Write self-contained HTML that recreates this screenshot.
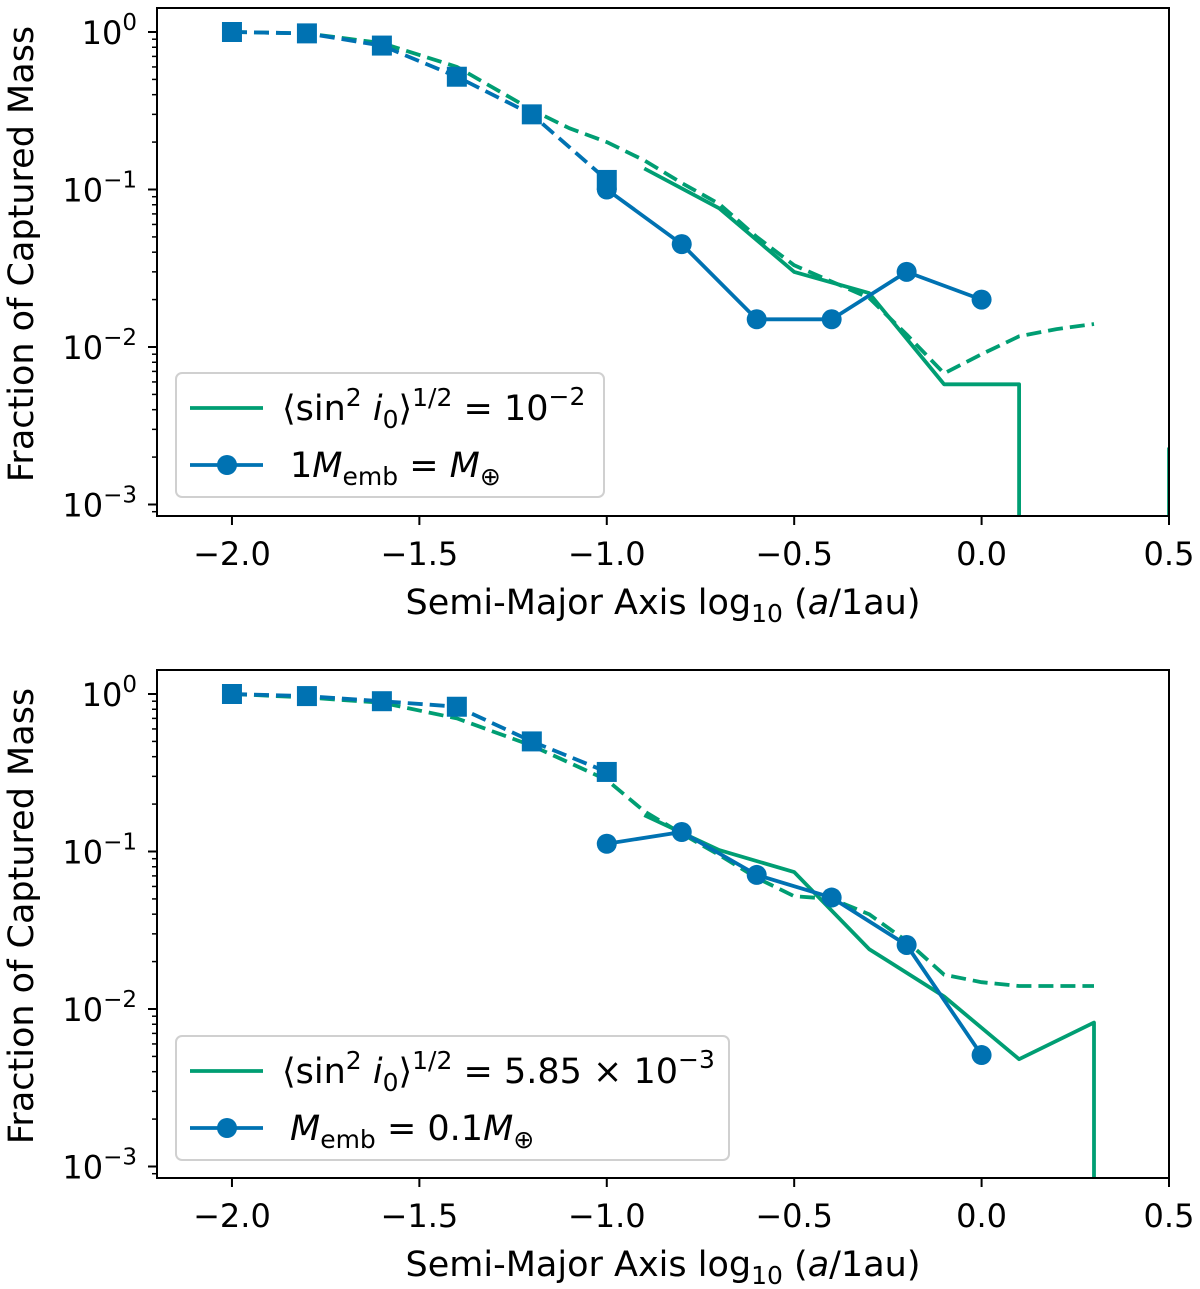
<!DOCTYPE html>
<html><head><meta charset="utf-8">
<style>
html,body{margin:0;padding:0;background:#fff;width:1200px;height:1289px;overflow:hidden;}
svg{display:block;font-family:"DejaVu Sans","Liberation Sans",sans-serif;overflow:hidden;}
</style></head>
<body>
<svg id="fig" width="1200" height="1289" viewBox="0 0 1200 1289" xmlns="http://www.w3.org/2000/svg"></svg>
<script>
// ---- data ----
const xTicks = [-2.0, -1.5, -1.0, -0.5, 0.0, 0.5];
const xTickLabels = ["\u22122.0", "\u22121.5", "\u22121.0", "\u22120.5", "0.0", "0.5"];
const yTickExps = [0, -1, -2, -3];

// top panel
const topSqX = [-2.0, -1.8, -1.6, -1.4, -1.2, -1.0];
const topSqY = [1.0, 0.98, 0.82, 0.52, 0.30, 0.115];
const topCircX = [-1.0, -0.8, -0.6, -0.4, -0.2, 0.0];
const topCircY = [0.10, 0.045, 0.015, 0.015, 0.030, 0.020];
const topGDashX = [-2.0, -1.8, -1.6, -1.4, -1.2, -1.1, -1.0, -0.9, -0.8, -0.7, -0.6, -0.5, -0.4, -0.3, -0.2, -0.1, 0.0, 0.1, 0.2, 0.3];
const topGDashY = [1.0, 0.98, 0.85, 0.6, 0.32, 0.245, 0.2, 0.153, 0.11, 0.081, 0.05, 0.033, 0.026, 0.0205, 0.012, 0.0068, 0.009, 0.0117, 0.013, 0.014];
const topGSolidX = [-0.9, -0.7, -0.5, -0.3, -0.1, 0.1, 0.2, 0.3, 0.4, 0.5];
const topGSolidY = [0.136, 0.076, 0.030, 0.022, 0.0058, 0.0058, 0, 0, 0, 0.0023];

// bottom panel
const botSqX = [-2.0, -1.8, -1.6, -1.4, -1.2, -1.0];
const botSqY = [1.0, 0.97, 0.9, 0.83, 0.50, 0.32];
const botCircX = [-1.0, -0.8, -0.6, -0.4, -0.2, 0.0];
const botCircY = [0.112, 0.133, 0.071, 0.051, 0.0255, 0.0051];
const botGDashX = [-2.0, -1.8, -1.6, -1.4, -1.2, -1.0, -0.9, -0.8, -0.7, -0.6, -0.5, -0.4, -0.3, -0.2, -0.1, 0.0, 0.1, 0.2, 0.3];
const botGDashY = [1.0, 0.95, 0.88, 0.7, 0.47, 0.285, 0.18, 0.13, 0.095, 0.068, 0.052, 0.05, 0.04, 0.027, 0.0165, 0.0148, 0.014, 0.014, 0.014];
const botGSolidX = [-0.9, -0.7, -0.5, -0.3, -0.1, 0.1, 0.3, 0.4];
const botGSolidY = [0.17, 0.102, 0.074, 0.024, 0.012, 0.0048, 0.0082, 0];

const BLUE = "#0072B2", GREEN = "#009E73";
const NS = "http://www.w3.org/2000/svg";
const svg = document.getElementById("fig");
function mk(tag, attrs, parent) {
  const e = document.createElementNS(NS, tag);
  for (const k in attrs) e.setAttribute(k, attrs[k]);
  (parent || svg).appendChild(e);
  return e;
}

function panel(P) {
  const L = 157, R = 1169, T = P.top, B = P.top + 508;
  const y0 = P.y0;
  const dec = 157.5;
  const X = v => L + (v + 2.2) / 2.7 * (R - L);
  const Y = v => y0 - Math.log10(v) * dec;
  const g = mk("g", {});
  
  
  const clipId = "clip" + P.top;
  const cp = mk("clipPath", {id: clipId}, g);
  mk("rect", {x: L, y: T, width: R - L, height: B - T}, cp);

  xTicks.forEach((t, i) => {
    const tk = mk("line", {x1: X(t), x2: X(t), y1: B, y2: B + 9, stroke: "#000", "stroke-width": 2}, g);
    
    
    const tl = mk("text", {x: X(t), y: B + 49, "font-size": 32, "text-anchor": "middle"}, g);
    tl.textContent = xTickLabels[i];
    
    
  });
  yTickExps.forEach(e => {
    const py = y0 - e * dec;
    const tk = mk("line", {x1: L - 9, x2: L, y1: py, y2: py, stroke: "#000", "stroke-width": 2}, g);
    
    
    const tl = mk("text", {x: L - 20, y: py + 12, "font-size": 32, "text-anchor": "end"}, g);
    
    
    tl.innerHTML = '10<tspan dy="-14" font-size="23">' + (e === 0 ? "0" : "\u2212" + (-e)) + '</tspan>';
    for (let m = 2; m <= 9; m++) {
      const my = y0 - (e - 1 + Math.log10(m)) * dec;
      if (my > T && my < B) {
        const mt = mk("line", {x1: L - 5, x2: L, y1: my, y2: my, stroke: "#000", "stroke-width": 1.5}, g);
        
        
      }
    }
  });

  const dg = mk("g", {"clip-path": "url(#" + clipId + ")"}, g);
  function line(xs, ys, color, dash, name) {
    const pts = [];
    xs.forEach((x, i) => {
      if (ys[i] > 0) { pts.push(X(x).toFixed(1) + "," + Y(ys[i]).toFixed(1)); return; }
      // zero on log axis: drop vertically below the axis at neighbouring finite x
      if (i > 0 && ys[i - 1] > 0) pts.push(X(xs[i - 1]).toFixed(1) + "," + (B + 20));
      if (i < xs.length - 1 && ys[i + 1] > 0) pts.push(X(xs[i + 1]).toFixed(1) + "," + (B + 20));
    });
    const pl = mk("polyline", {points: pts.join(" "), fill: "none", stroke: color, "stroke-width": 3.8, "stroke-dasharray": dash ? "15,7" : "none", "stroke-linejoin": "round"}, dg);
    
    
  }
  line(P.gdx, P.gdy, GREEN, true, "green-dashed-line");
  line(P.gsx, P.gsy, GREEN, false, "green-solid-line");
  line(P.sqx, P.sqy, BLUE, true, "blue-dashed-line");
  line(P.cx, P.cy, BLUE, false, "blue-solid-line");
  P.sqx.forEach((x, i) => {
    const r = mk("rect", {x: X(x) - 10, y: Y(P.sqy[i]) - 10, width: 20, height: 20, fill: BLUE}, g);
    
    
  });
  P.cx.forEach((x, i) => {
    const c = mk("circle", {cx: X(x), cy: Y(P.cy[i]), r: 10, fill: BLUE}, g);
    
    
  });

  const fr = mk("rect", {x: L, y: T, width: R - L, height: B - T, fill: "none", stroke: "#000", "stroke-width": 2}, g);
  
  

  const yl = mk("text", {x: 0, y: 0, "font-size": 35, "text-anchor": "middle", transform: "translate(33," + ((T + B) / 2 - 8) + ") rotate(-90)"}, g);
  yl.textContent = "Fraction of Captured Mass";
  
  
  const xl = mk("text", {x: 663, y: B + 98, "font-size": 35, "text-anchor": "middle"}, g);
  xl.innerHTML = 'Semi-Major Axis log<tspan dy="8" font-size="25">10</tspan><tspan dy="-8"> (</tspan><tspan font-style="italic">a</tspan>/1au)';
  
  

  const lg = mk("g", {}, g);
  
  
  mk("rect", {x: 176, y: P.legY, width: P.legW, height: 124, rx: 6, fill: "#fff", "fill-opacity": 0.85, stroke: "#d0d0d0", "stroke-width": 2}, lg);
  const r1 = P.legY + 35, r2 = P.legY + 92;
  const e1 = mk("line", {x1: 190, x2: 263, y1: r1, y2: r1, stroke: GREEN, "stroke-width": 3.8}, lg);
  
  
  const t1 = mk("text", {x: 282, y: r1 + 12, "font-size": 35}, lg);
  t1.innerHTML = P.leg1;
  
  
  const e2 = mk("line", {x1: 190, x2: 263, y1: r2, y2: r2, stroke: BLUE, "stroke-width": 3.8}, lg);
  
  
  mk("circle", {cx: 227, cy: r2, r: 10, fill: BLUE}, lg);
  const t2 = mk("text", {x: 290, y: r2 + 12, "font-size": 35}, lg);
  t2.innerHTML = P.leg2;
  
  
}

const sinPart = '\u27E8sin<tspan dy="-14" font-size="25">2</tspan><tspan dy="14"> </tspan><tspan font-style="italic">i</tspan><tspan dy="8" font-size="25">0</tspan><tspan dy="-8">\u27E9</tspan><tspan dy="-14" font-size="25">1/2</tspan><tspan dy="14"> = </tspan>';
panel({name: "top-panel", top: 8, y0: 32, sqx: topSqX, sqy: topSqY, cx: topCircX, cy: topCircY, gdx: topGDashX, gdy: topGDashY, gsx: topGSolidX, gsy: topGSolidY,
  legY: 373, legW: 428,
  leg1: sinPart + '10<tspan dy="-15" font-size="25">\u22122</tspan>',
  leg2: '1<tspan font-style="italic">M</tspan><tspan dy="8" font-size="25">emb</tspan><tspan dy="-8"> = </tspan><tspan font-style="italic">M</tspan><tspan dy="8" font-size="25">\u2295</tspan>'});
panel({name: "bottom-panel", top: 670, y0: 694, sqx: botSqX, sqy: botSqY, cx: botCircX, cy: botCircY, gdx: botGDashX, gdy: botGDashY, gsx: botGSolidX, gsy: botGSolidY,
  legY: 1036, legW: 553,
  leg1: sinPart + '5.85 \u00D7 10<tspan dy="-15" font-size="25">\u22123</tspan>',
  leg2: '<tspan font-style="italic">M</tspan><tspan dy="8" font-size="25">emb</tspan><tspan dy="-8"> = 0.1</tspan><tspan font-style="italic">M</tspan><tspan dy="8" font-size="25">\u2295</tspan>'});
</script>
</body></html>
